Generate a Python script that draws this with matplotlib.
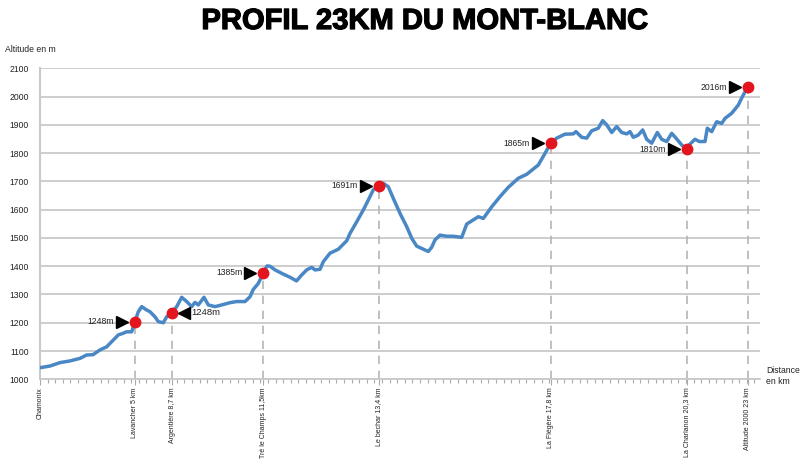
import matplotlib
matplotlib.use("Agg")
import matplotlib.pyplot as plt
from matplotlib.transforms import offset_copy
from matplotlib.ticker import MultipleLocator, FixedLocator
import matplotlib.patheffects as pe

# ---------------- data ----------------
# position along the drawn profile (chart units, non-linear in km) and altitude (m)
track_pos = [0, 10, 20, 30, 40, 46.7, 53, 60, 66.7, 73.3, 78.3, 83.3, 86.7, 91.7,
             95, 98.3, 101.7, 106.7, 110, 115, 118.3, 123.3, 126.7, 132, 136.7,
             141.7, 146.7, 151.7, 155, 158.3, 164, 168.3, 175, 181.7, 190, 196.7,
             205, 210, 213.3, 218.3, 223.3, 227, 230, 235, 243.3, 250, 256.5,
             261.7, 266.7, 271.7, 275, 280, 283.3, 290, 298.3, 306.7, 310, 316.7,
             323.3, 328.3, 333.3, 339, 343.3, 348.3, 353.3, 360, 366.7, 371.7,
             376.7, 383.3, 388.3, 391.7, 395, 400, 406.7, 413.3, 421.7, 426.7,
             438.3, 443.3, 451.7, 460, 468.3, 478.3, 486.7, 498.3, 505, 510.7,
             516.7, 525, 533.3, 536, 541.7, 546.7, 551.7, 558.3, 562.7, 566.7,
             571.7, 576.7, 581.7, 586.7, 590, 593.3, 598.3, 602.7, 606.7, 611.7,
             617.3, 621.7, 626.7, 631.7, 636, 641.7, 646.7, 650, 655, 659.3, 665,
             667.3, 671.7, 676.7, 681.7, 685, 691.7, 698.3, 702.7, 707.7]
altitude = [1041, 1047, 1059, 1065, 1074, 1086, 1087, 1104, 1115, 1139, 1157, 1163,
            1168, 1168, 1204, 1239, 1257, 1245, 1239, 1221, 1204, 1200, 1221, 1236,
            1257, 1290, 1275, 1257, 1272, 1263, 1290, 1263, 1257, 1263, 1271, 1275,
            1275, 1292, 1318, 1339, 1376, 1401, 1400, 1387, 1372, 1361, 1348, 1369,
            1387, 1396, 1387, 1389, 1416, 1446, 1460, 1490, 1516, 1557, 1599, 1634,
            1670, 1685, 1693, 1681, 1640, 1587, 1540, 1499, 1471, 1460, 1452, 1467,
            1493, 1510, 1506, 1506, 1502, 1549, 1575, 1569, 1610, 1646, 1679, 1711,
            1725, 1758, 1799, 1835, 1853, 1867, 1868, 1876, 1856, 1853, 1879, 1888,
            1915, 1900, 1873, 1894, 1873, 1868, 1876, 1856, 1864, 1882, 1849, 1835,
            1873, 1849, 1841, 1870, 1853, 1829, 1814, 1832, 1849, 1841, 1841, 1888,
            1876, 1911, 1905, 1923, 1941, 1970, 2002, 2033]

# waypoints
wp_names = ["Chamonix", "Lavancher 5 km", "Argentière 8,7 km", "Tré le Champs 11,5km",
            "Le bechar 13,4 km", "La Flégère 17,8 km", "La Charlanon 20,3 km",
            "Altitude 2000 23 km"]
wp_pos = [0, 95, 132, 223.3, 339, 510.7, 646.7, 707.7]
wp_alt = [None, 1204, 1236, 1376, 1685, 1835, 1814, 2033]
wp_labels = [None, "1248m", "1248m", "1385m", "1691m", "1865m", "1810m", "2016m"]
wp_side = [None, "left", "right", "left", "left", "left", "left", "left"]

y_ticks = [1000, 1100, 1200, 1300, 1400, 1500, 1600, 1700, 1800, 1900, 2000, 2100]

# ---------------- figure ----------------
plt.rcParams['font.family'] = ['Liberation Sans', 'DejaVu Sans']
fig = plt.figure(figsize=(8.0, 4.59), dpi=100)
ax = fig.add_axes([0.05, (459 - 379.3) / 459, 0.90, (379.3 - 68.3) / 459])

grid_c = "#c9c9c9"
ax.set_xlim(0, 720)
ax.set_ylim(1000, 2100)
ax.set_yticks(y_ticks)
ax.yaxis.grid(True, color=grid_c, linewidth=1.3)
ax.set_axisbelow(True)
for s in ["top", "right"]:
    ax.spines[s].set_visible(False)
ax.spines["left"].set_color(grid_c)
ax.spines["left"].set_linewidth(1.5)
ax.spines["bottom"].set_color(grid_c)
ax.spines["bottom"].set_linewidth(1.3)
ax.tick_params(axis="y", length=0, pad=8, labelsize=6.2, labelcolor="#222222")

ax.xaxis.set_major_locator(FixedLocator(wp_pos))
ax.set_xticklabels(wp_names, rotation=90, fontsize=5.0, color="#222222",
                   va="top", ha="center")
ax.xaxis.set_minor_locator(MultipleLocator(7.6))
ax.tick_params(axis="x", which="major", length=4, width=0.8, color="#aaaaaa", pad=2)
ax.tick_params(axis="x", which="minor", length=3, width=0.8, color="#aaaaaa")

# profile line
ax.plot(track_pos, altitude, color="#4a87c5", linewidth=2.5, solid_joinstyle="round",
        zorder=3)

# waypoint dashed lines, markers, arrows and labels
for p, a, lab, side in zip(wp_pos, wp_alt, wp_labels, wp_side):
    if a is None:
        continue
    ax.plot([p, p], [1000, a], color="#b5b5b5", linewidth=1.2,
            linestyle=(0, (5, 4)), zorder=2)
    ax.plot(p, a, "o", color="#e3151f", markersize=7.5, zorder=5)
    if side == "left":
        tr = offset_copy(ax.transData, fig=fig, x=-13, y=0, units="dots")
        ax.plot(p, a, ">", color="black", markersize=8.5, transform=tr, zorder=5)
        tt = offset_copy(ax.transData, fig=fig, x=-21, y=0, units="dots")
        ax.text(p, a, lab, transform=tt, ha="right", va="center", fontsize=6.2,
                color="#222222")
    else:
        tr = offset_copy(ax.transData, fig=fig, x=12, y=0, units="dots")
        ax.plot(p, a, "<", color="black", markersize=8.5, transform=tr, zorder=5)
        tt = offset_copy(ax.transData, fig=fig, x=19, y=0, units="dots")
        ax.text(p, a, lab, transform=tt, ha="left", va="center", fontsize=6.8,
                color="#222222")

# texts
fig.text(425 / 800, 1 - 21 / 459, "PROFIL 23KM DU MONT-BLANC", ha="center", va="center",
         fontsize=21, fontweight="bold", color="black",
         path_effects=[pe.withStroke(linewidth=0.9, foreground="black")])
fig.text(5 / 800, 1 - 50 / 459, "Altitude en m", ha="left", va="center", fontsize=6.2,
         color="#222222")
fig.text(766 / 800, 1 - 376 / 459, "Distance\nen km", ha="left", va="center",
         fontsize=6.2, color="#222222", linespacing=1.4)

fig.savefig("out.png", dpi=100)
